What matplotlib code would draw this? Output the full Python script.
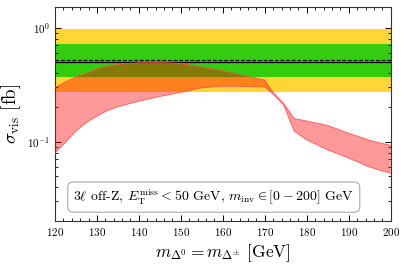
import matplotlib as mpl
mpl.use('Agg')
import matplotlib.pyplot as plt
import numpy as np
from matplotlib.ticker import MultipleLocator

plt.rcParams.update({
    'font.family': 'serif',
    'font.serif': ['cmr10', 'DejaVu Serif'],
    'mathtext.fontset': 'cm',
    'axes.formatter.use_mathtext': True,
    'axes.unicode_minus': False,
})

# sensitivity bands (fb)
EXPECTED = 0.497
OBSERVED = 0.521
GREEN_BAND = (0.372, 0.719)
YELLOW_BAND = (0.275, 0.968)

# visible cross section band vs mass
MASS = [120, 122.5, 125, 127.5, 130, 132.5, 135, 140, 145, 150, 155, 160,
        165, 170, 172, 174.5, 177, 180, 185, 190, 195, 200]
SIGMA_HI = [0.298, 0.335, 0.37, 0.40, 0.435, 0.46, 0.478, 0.493, 0.495,
            0.487, 0.452, 0.42, 0.38, 0.348, 0.27, 0.217, 0.160, 0.152,
            0.139, 0.119, 0.103, 0.093]
SIGMA_LO = [0.080, 0.099, 0.124, 0.148, 0.168, 0.188, 0.203, 0.227, 0.25,
            0.271, 0.298, 0.307, 0.306, 0.302, 0.262, 0.21, 0.124, 0.104,
            0.085, 0.072, 0.060, 0.053]


def main() -> None:
    fig = plt.figure(figsize=(4.07, 2.68), dpi=100)
    ax = fig.add_axes([0.135, 0.176, 0.825, 0.798])

    ax.axhspan(*YELLOW_BAND, color='#ffd633', lw=0, zorder=1)
    ax.axhspan(*GREEN_BAND, color='#33cc0f', lw=0, zorder=1)
    ax.axhline(EXPECTED, color='black', lw=0.9, zorder=2)
    ax.axhline(OBSERVED, color='black', lw=0.9, ls=(0, (3, 1.5)), zorder=2)

    ax.fill_between(MASS, SIGMA_LO, SIGMA_HI, facecolor='red', alpha=0.4,
                    lw=0, zorder=3)
    ax.plot(MASS, SIGMA_HI, color='#ff4d4d', lw=0.7, alpha=0.8, zorder=3)
    ax.plot(MASS, SIGMA_LO, color='#ff4d4d', lw=0.7, alpha=0.8, zorder=3)

    ax.set_yscale('log')
    ax.set_xlim(120, 200)
    ax.set_ylim(0.0203, 1.52)
    ax.xaxis.set_major_locator(MultipleLocator(10))
    ax.xaxis.set_minor_locator(MultipleLocator(2))
    ax.tick_params(which='both', direction='in', top=True, right=True,
                   labelsize=8)
    ax.tick_params(which='major', length=4, width=0.7)
    ax.tick_params(which='minor', length=2, width=0.6)
    for sp in ax.spines.values():
        sp.set_linewidth(0.8)
        sp.set_color('#333333')

    ax.set_xlabel(r'$m_{\Delta^0} = m_{\Delta^{\pm}}$ [GeV]', fontsize=12.5,
                  labelpad=3)
    ax.set_ylabel(r'$\sigma_{\rm vis}$ [fb]', fontsize=13.5, labelpad=3)

    ax.text(0.473, 0.111,
            r'$3\ell$ off-Z, $E_{\rm T}^{\rm miss} < 50$ GeV, '
            r'$m_{\rm inv} \in [0-200]$ GeV',
            transform=ax.transAxes, ha='center', va='center', fontsize=10,
            zorder=5,
            bbox=dict(boxstyle='round,pad=0.4', facecolor='white',
                      edgecolor='#aaaaaa', lw=0.8))

    fig.savefig('out.png', dpi=100)


if __name__ == '__main__':
    main()
